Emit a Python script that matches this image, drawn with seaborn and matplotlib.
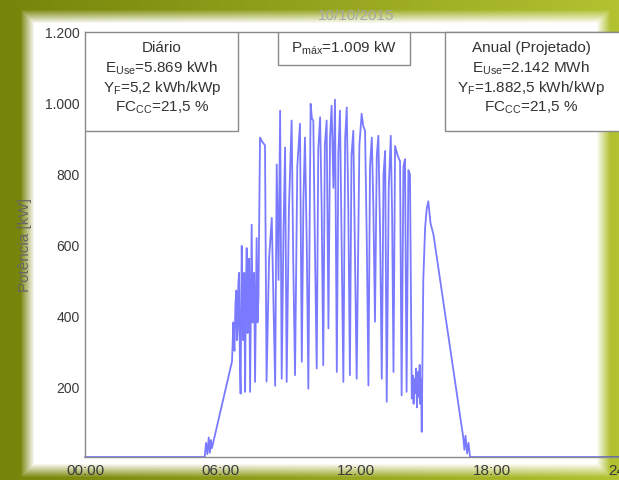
import matplotlib
matplotlib.use("Agg")
import matplotlib.pyplot as plt
import seaborn as sns
import numpy as np
import pandas as pd
from matplotlib.patches import Rectangle

# dados (hora do dia, potencia em kW)
hours = [0.00, 5.30, 5.36, 5.42, 5.48, 5.53, 5.58, 5.62, 6.51, 6.55, 6.57, 6.60, 6.62, 6.66,
         6.70, 6.73, 6.76, 6.79, 6.82, 6.86, 6.89, 6.94, 6.98, 7.01, 7.05, 7.09, 7.12, 7.16,
         7.20, 7.23, 7.27, 7.31, 7.38, 7.42, 7.45, 7.49, 7.53, 7.60, 7.64, 7.68, 7.75, 7.85,
         7.97, 8.04, 8.15, 8.27, 8.35, 8.42, 8.49, 8.57, 8.64, 8.71, 8.79, 8.86, 8.93, 9.03,
         9.15, 9.22, 9.30, 9.40, 9.52, 9.60, 9.67, 9.74, 9.82, 9.89, 9.99, 10.05, 10.11, 10.18,
         10.26, 10.33, 10.41, 10.48, 10.55, 10.62, 10.70, 10.78, 10.85, 10.92, 11.00, 11.07,
         11.15, 11.22, 11.29, 11.36, 11.44, 11.52, 11.59, 11.66, 11.73, 11.80, 11.88, 11.95,
         12.03, 12.15, 12.25, 12.32, 12.40, 12.48, 12.55, 12.62, 12.70, 12.77, 12.84, 12.92,
         12.99, 13.07, 13.14, 13.22, 13.29, 13.36, 13.45, 13.54, 13.60, 13.66, 13.73, 13.85,
         13.95, 14.02, 14.10, 14.17, 14.24, 14.32, 14.39, 14.47, 14.52, 14.55, 14.58, 14.62,
         14.66, 14.70, 14.74, 14.78, 14.82, 14.85, 14.88, 14.91, 14.98, 15.06, 15.13, 15.20,
         15.30, 15.43, 16.75, 16.80, 16.85, 16.92, 16.98, 17.05, 24.00]
power_kw = [0, 0, 40, 8, 55, 12, 48, 25, 270, 340, 380, 310, 300, 430,
            470, 330, 360, 490, 520, 260, 179, 596, 400, 330, 520, 184, 450, 590,
            350, 420, 560, 184, 656, 380, 400, 520, 212, 618, 380, 450, 902, 890,
            880, 213, 560, 675, 420, 201, 826, 500, 978, 221, 640, 874, 212, 700,
            950, 560, 231, 820, 941, 269, 720, 902, 600, 193, 997, 955, 950, 600,
            250, 870, 959, 700, 259, 880, 950, 363, 900, 992, 760, 1009,
            240, 860, 978, 620, 212, 900, 987, 700, 231, 850, 921, 600,
            221, 880, 969, 935, 921, 600, 202, 820, 902, 700, 382, 850,
            907, 620, 221, 800, 864, 156, 760, 907, 680, 240, 878, 850,
            835, 174, 820, 841, 184, 810, 798, 165, 230, 150, 220, 180,
            250, 140, 240, 170, 260, 150, 220, 71, 500, 647, 700, 722,
            660, 628, 55, 20, 60, 10, 40, 0, 0]

xticks = [0, 6, 12, 18, 24]
xtick_labels = ["00:00", "06:00", "12:00", "18:00", "24:00"]
yticks = [0, 200, 400, 600, 800, 1000, 1200]
ytick_labels = ["", "200", "400", "600", "800", "1.000", "1.200"]

box_diario = ["Diário", r"E$_\mathregular{Use}$=5.869 kWh",
              r"Y$_\mathregular{F}$=5,2 kWh/kWp", r"FC$_\mathregular{CC}$=21,5 %"]
box_anual = ["Anual (Projetado)", r"E$_\mathregular{Use}$=2.142 MWh",
             r"Y$_\mathregular{F}$=1.882,5 kWh/kWp", r"FC$_\mathregular{CC}$=21,5 %"]
box_pmax = r"P$_\mathregular{máx}$=1.009 kW"

df = pd.DataFrame({"hora": hours, "potencia": power_kw})

sns.set_theme(style="white")
plt.rcParams["font.family"] = ["Liberation Sans", "DejaVu Sans"]
plt.rcParams["mathtext.fontset"] = "custom"
plt.rcParams["mathtext.rm"] = "Liberation Sans"

W, H = 619, 481
fig = plt.figure(figsize=(W / 100, H / 100), dpi=100, facecolor="#7d8c12")

# moldura verde com painel branco (fundo do slide)
bg = fig.add_axes([0, 0, 1, 1], zorder=-5)
yy, xx = np.mgrid[0:H, 0:W]
d = np.minimum.reduce([xx - 26, 604 - xx, yy - 16, 472 - yy]).astype(float)
t = np.clip((d + 6) / 14, 0, 1)[..., None]
frac = (xx / (W - 1))[..., None]
left_c = np.array([118, 132, 10]) / 255
right_c = np.array([178, 194, 48]) / 255
green = left_c * (1 - frac) + right_c * frac
img = green * (1 - t) + 1.0 * t
bg.imshow(img, aspect="auto")
bg.axis("off")

ax = fig.add_axes([85 / W, (H - 458) / H, (627 - 85) / W, (458 - 33) / H])
ax.set_facecolor("none")
sns.lineplot(data=df, x="hora", y="potencia", estimator=None, sort=False,
             color="#2222ff", alpha=0.6, linewidth=1.3, ax=ax, clip_on=False)

ax.set_xlim(0, 24)
ax.set_ylim(0, 1200)
ax.set_xticks(xticks)
ax.set_xticklabels(xtick_labels)
ax.set_yticks(yticks)
ax.set_yticklabels(ytick_labels)
ax.tick_params(direction="in", length=4, width=0.8, colors="#777777",
               labelcolor="#3a3a3a", labelsize=10, pad=4)
ax.tick_params(axis="x", labelsize=11)
ax.set_xlabel("")
ax.set_ylabel("Potência [kW]", fontsize=11, color="#666666", labelpad=9)
ax.set_title("10/10/2015", fontsize=11, color="#a8a8a8", pad=9)
for s in ax.spines.values():
    s.set_color("#8a8a8a")
    s.set_linewidth(1.0)

# caixas de texto
ax.add_patch(Rectangle((0, 921), 6.78, 279, facecolor="white", edgecolor="#8a8a8a", lw=1.0, zorder=5))
ax.add_patch(Rectangle((8.55, 1106), 5.85, 94, facecolor="white", edgecolor="#8a8a8a", lw=1.0, zorder=5))
ax.add_patch(Rectangle((15.94, 921), 9.0, 279, facecolor="white", edgecolor="#8a8a8a", lw=1.0,
                       zorder=5, clip_on=False))
line_y = [1158, 1101, 1044, 988]
for txt, yv in zip(box_diario, line_y):
    ax.text(3.40, yv, txt, ha="center", va="center", fontsize=11, color="#333333", zorder=6)
for txt, yv in zip(box_anual, line_y):
    ax.text(19.75, yv, txt, ha="center", va="center", fontsize=11, color="#333333", zorder=6)
ax.text(11.47, 1158, box_pmax, ha="center", va="center", fontsize=11, color="#333333", zorder=6)

fig.savefig("out.png", dpi=100, facecolor=fig.get_facecolor())
